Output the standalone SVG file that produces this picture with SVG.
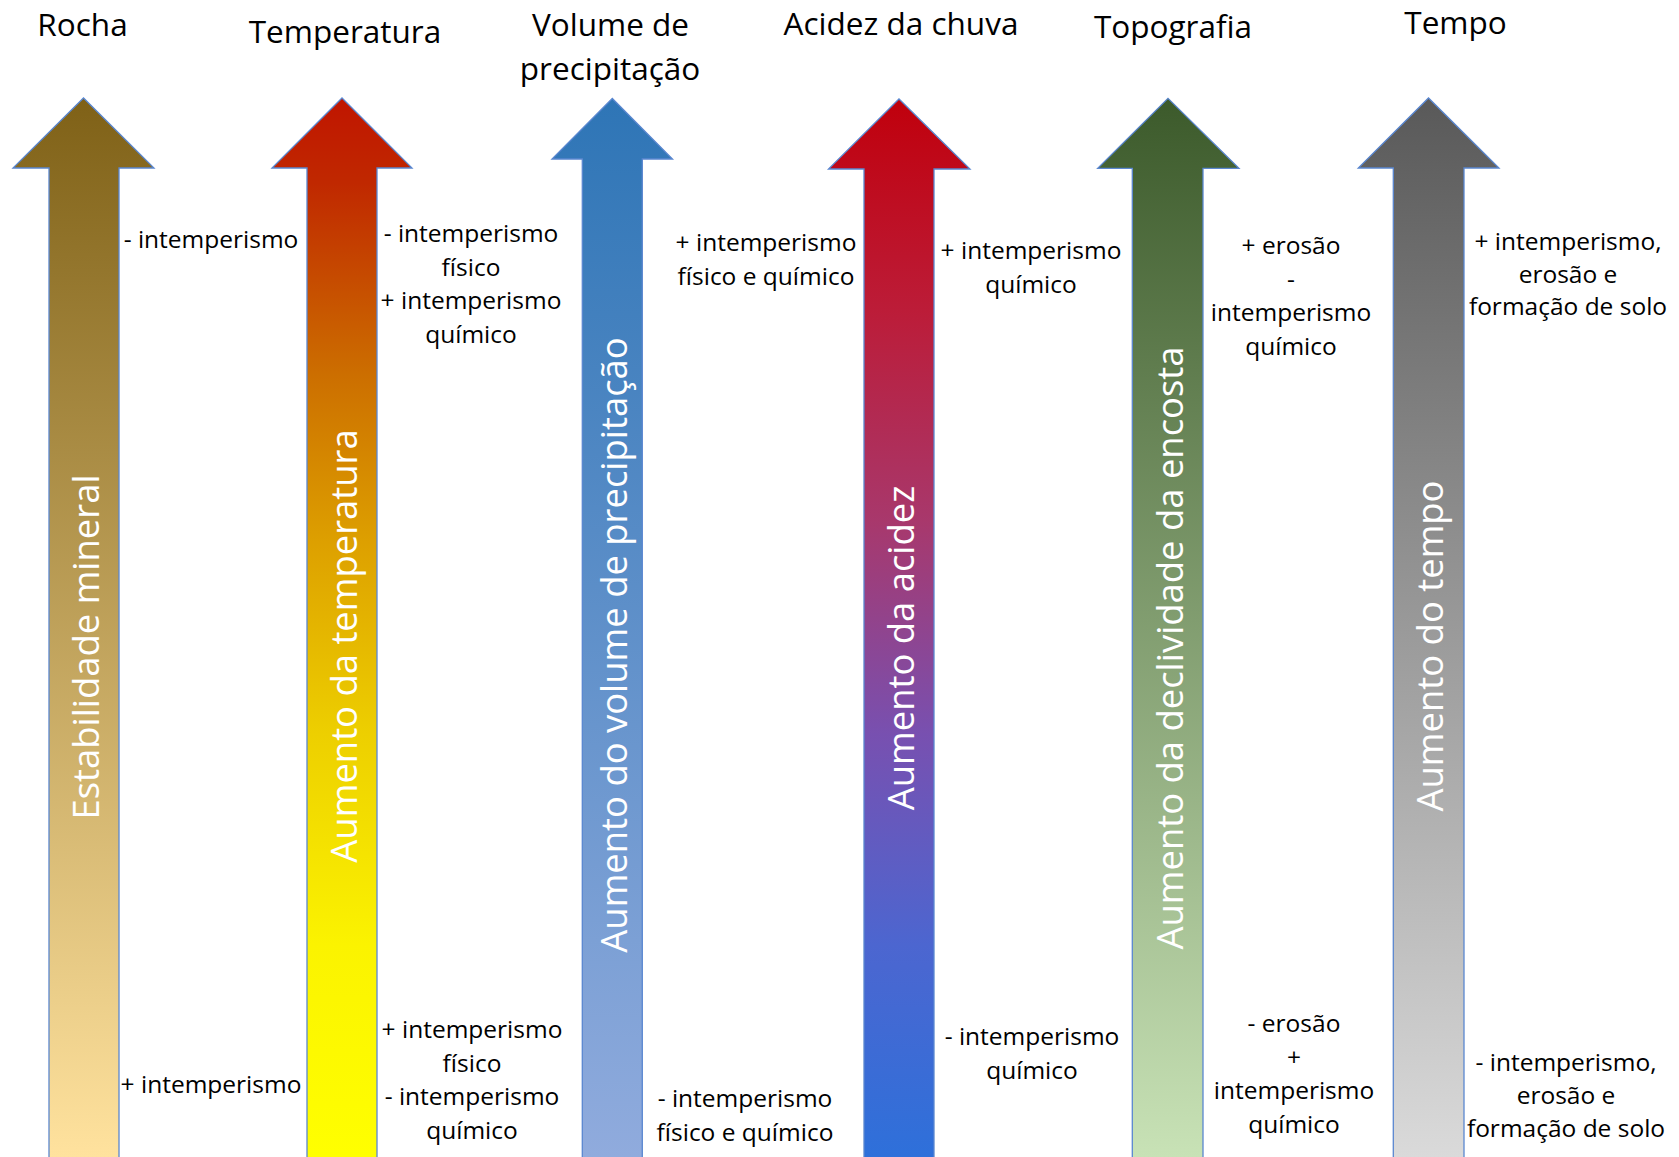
<svg xmlns="http://www.w3.org/2000/svg" width="1679" height="1157" viewBox="0 0 1679 1157">
<style>
.arrow{stroke:#5A87D0;stroke-width:1.3;stroke-linejoin:miter}
.title{font-family:"Open Sans","Noto Sans",sans-serif;font-size:31.5px;fill:#000;text-anchor:middle}
.lbl{font-family:"Open Sans","Noto Sans",sans-serif;font-size:24.5px;fill:#000;text-anchor:middle}
.vt{font-family:"Open Sans","Noto Sans",sans-serif;font-size:36.4px;fill:#fff;text-anchor:middle}
</style>
<defs>
<linearGradient id="g1" gradientUnits="userSpaceOnUse" x1="0" y1="98" x2="0" y2="1157">
<stop offset="0" stop-color="#7F6117"/><stop offset="1" stop-color="#FFE29E"/></linearGradient>
<linearGradient id="g2" gradientUnits="userSpaceOnUse" x1="0" y1="98" x2="0" y2="1157">
<stop offset="0" stop-color="#C01500"/><stop offset="0.08" stop-color="#C02800"/><stop offset="0.26" stop-color="#CC6E00"/><stop offset="0.42" stop-color="#DDA000"/><stop offset="0.6" stop-color="#EDCF00"/><stop offset="0.8" stop-color="#FBF300"/><stop offset="1" stop-color="#FFFF00"/></linearGradient>
<linearGradient id="g3" gradientUnits="userSpaceOnUse" x1="0" y1="98" x2="0" y2="1157">
<stop offset="0" stop-color="#2E75B6"/><stop offset="1" stop-color="#90ABDD"/></linearGradient>
<linearGradient id="g4" gradientUnits="userSpaceOnUse" x1="0" y1="98" x2="0" y2="1157">
<stop offset="0" stop-color="#C0000C"/><stop offset="0.2" stop-color="#BC1C38"/><stop offset="0.4" stop-color="#A8386C"/><stop offset="0.6" stop-color="#7850B0"/><stop offset="0.8" stop-color="#4C66D0"/><stop offset="1" stop-color="#2E70DA"/></linearGradient>
<linearGradient id="g5" gradientUnits="userSpaceOnUse" x1="0" y1="98" x2="0" y2="1157">
<stop offset="0" stop-color="#3C5A2B"/><stop offset="1" stop-color="#C8E2B6"/></linearGradient>
<linearGradient id="g6" gradientUnits="userSpaceOnUse" x1="0" y1="98" x2="0" y2="1157">
<stop offset="0" stop-color="#595959"/><stop offset="1" stop-color="#DADADA"/></linearGradient>
</defs>
<rect width="1679" height="1157" fill="#fff"/>

<g id="rocha">
<text class="title" x="82.5" y="36">Rocha</text>
<path class="arrow" fill="url(#g1)" d="M49,1158 L49,168 L13,168 L83.5,98 L154,168 L119,168 L119,1158"/>
<text class="vt" transform="translate(98.5,647) rotate(-90)">Estabilidade mineral</text>
<text class="lbl" x="211" y="248">- intemperismo</text>
<text class="lbl" x="211" y="1093">+ intemperismo</text>
</g>

<g id="temperatura">
<text class="title" x="345" y="43">Temperatura</text>
<path class="arrow" fill="url(#g2)" d="M307,1158 L307,168 L272,168 L342,98 L412,168 L377,168 L377,1158"/>
<text class="vt" transform="translate(356.5,646) rotate(-90)">Aumento da temperatura</text>
<text class="lbl" x="471" y="242">- intemperismo</text>
<text class="lbl" x="471" y="275.5">físico</text>
<text class="lbl" x="471" y="309">+ intemperismo</text>
<text class="lbl" x="471" y="342.5">químico</text>
<text class="lbl" x="472" y="1038">+ intemperismo</text>
<text class="lbl" x="472" y="1071.5">físico</text>
<text class="lbl" x="472" y="1105">- intemperismo</text>
<text class="lbl" x="472" y="1138.5">químico</text>
</g>

<g id="precipitacao">
<text class="title" x="610.5" y="36">Volume de</text>
<text class="title" x="610" y="80">precipitação</text>
<path class="arrow" fill="url(#g3)" d="M582.3,1158 L582.3,159 L552,159 L612.3,98.5 L672.5,159 L642.3,159 L642.3,1158"/>
<text class="vt" transform="translate(626.8,645) rotate(-90)">Aumento do volume de precipitação</text>
<text class="lbl" x="766" y="251">+ intemperismo</text>
<text class="lbl" x="766" y="284.5">físico e químico</text>
<text class="lbl" x="745" y="1107">- intemperismo</text>
<text class="lbl" x="745" y="1140.5">físico e químico</text>
</g>

<g id="acidez">
<text class="title" x="901" y="35">Acidez da chuva</text>
<path class="arrow" fill="url(#g4)" d="M864,1158 L864,169 L828.5,169 L899,99 L970,169 L934,169 L934,1158"/>
<text class="vt" transform="translate(913.5,648) rotate(-90)">Aumento da acidez</text>
<text class="lbl" x="1031" y="259">+ intemperismo</text>
<text class="lbl" x="1031" y="292.5">químico</text>
<text class="lbl" x="1032" y="1045">- intemperismo</text>
<text class="lbl" x="1032" y="1078.5">químico</text>
</g>

<g id="topografia">
<text class="title" x="1173" y="37.5">Topografia</text>
<path class="arrow" fill="url(#g5)" d="M1132.3,1158 L1132.3,168.3 L1097.7,168.3 L1168,98.3 L1239,168.3 L1203,168.3 L1203,1158"/>
<text class="vt" transform="translate(1182.5,648) rotate(-90)">Aumento da declividade da encosta</text>
<text class="lbl" x="1291" y="254">+ erosão</text>
<text class="lbl" x="1291" y="287.5">-</text>
<text class="lbl" x="1291" y="321">intemperismo</text>
<text class="lbl" x="1291" y="354.5">químico</text>
<text class="lbl" x="1294" y="1032">- erosão</text>
<text class="lbl" x="1294" y="1065.5">+</text>
<text class="lbl" x="1294" y="1099">intemperismo</text>
<text class="lbl" x="1294" y="1132.5">químico</text>
</g>

<g id="tempo">
<text class="title" x="1455.5" y="33.5">Tempo</text>
<path class="arrow" fill="url(#g6)" d="M1393.3,1158 L1393.3,168 L1358.3,168 L1428.5,98 L1499,168 L1464,168 L1464,1158"/>
<text class="vt" transform="translate(1443,646) rotate(-90)">Aumento do tempo</text>
<text class="lbl" x="1568" y="250">+ intemperismo,</text>
<text class="lbl" x="1568" y="282.5">erosão e</text>
<text class="lbl" x="1568" y="315">formação de solo</text>
<text class="lbl" x="1566" y="1071">- intemperismo,</text>
<text class="lbl" x="1566" y="1104">erosão e</text>
<text class="lbl" x="1566" y="1137">formação de solo</text>
</g>

<g id="connectors"></g>
</svg>
